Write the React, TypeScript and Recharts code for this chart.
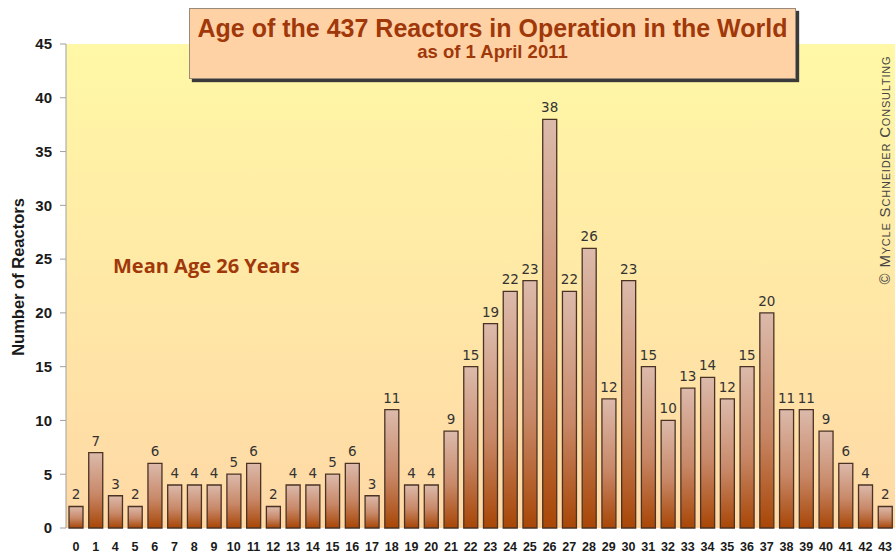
import { BarChart, Bar, XAxis, YAxis, CartesianGrid, LabelList } from "recharts";

// age in years (x-axis categories) and number of reactors of that age
const ages = [
  "0", "1", "4", "5", "6", "7", "8", "9", "10", "11", "12", "13", "14", "15",
  "16", "17", "18", "19", "20", "21", "22", "23", "24", "25", "26", "27", "28",
  "29", "30", "31", "32", "33", "34", "35", "36", "37", "38", "39", "40", "41",
  "42", "43",
];
const reactors = [
  2, 7, 3, 2, 6, 4, 4, 4, 5, 6, 2, 4, 4, 5, 6, 3, 11, 4, 4, 9, 15, 19, 22, 23,
  38, 22, 26, 12, 23, 15, 10, 13, 14, 12, 15, 20, 11, 11, 9, 6, 4, 2,
];
const yTicks = [0, 5, 10, 15, 20, 25, 30, 35, 40, 45];

const data = ages.map((age, i) => ({ age, count: reactors[i] }));
// band edges for the little tick marks between the bars
const bandEdges = ages.map((_, i) => i).concat([ages.length]);

const W = 895;
const H = 558;
const red = "#a0380a";

export default function App() {
  return (
    <div style={{ position: "absolute", left: 0, top: 0, width: W, height: H, background: "#fff" }}>
      <BarChart
        width={W}
        height={H}
        data={data}
        margin={{ top: 44, right: 0, bottom: 0, left: 0 }}
        barSize={14}
      >
        <defs>
          <linearGradient id="bg" x1="0" y1="0" x2="0" y2="1">
            <stop offset="0%" stopColor="#fff8a6" />
            <stop offset="100%" stopColor="#ffd8a6" />
          </linearGradient>
          <linearGradient id="barFill" x1="0" y1="0" x2="0" y2="1">
            <stop offset="0%" stopColor="#dcbaab" />
            <stop offset="55%" stopColor="#c88868" />
            <stop offset="100%" stopColor="#a84606" />
          </linearGradient>
        </defs>
        <CartesianGrid fill="url(#bg)" horizontal={false} vertical={false} stroke="none" />
        <XAxis
          xAxisId="edges"
          type="number"
          domain={[0, ages.length]}
          ticks={bandEdges}
          tick={false}
          height={0}
          tickSize={5}
          stroke="#a0a0a0"
          allowDataOverflow
        />
        <XAxis
          dataKey="age"
          interval={0}
          height={30}
          axisLine={false}
          tickLine={false}
          tickMargin={8}
          tick={{ fontSize: 12.5, fontWeight: "bold", fill: "#1a1a1a", fontFamily: "Liberation Sans, Arial, sans-serif" }}
        />
        <YAxis
          domain={[0, 45]}
          ticks={yTicks}
          width={66}
          tickSize={6}
          tickMargin={8}
          stroke="#a0a0a0"
          tick={{ fontSize: 15, fontWeight: "bold", fill: "#1a1a1a", fontFamily: "Liberation Sans, Arial, sans-serif" }}
          label={{
            content: () => (
              <text
                x={18}
                y={277}
                transform="rotate(-90 18 277)"
                textAnchor="middle"
                dominantBaseline="central"
                fontSize={16.5}
                fontWeight="bold"
                fill="#1a1a1a"
                fontFamily="Liberation Sans, Arial, sans-serif"
              >
                Number of Reactors
              </text>
            ),
          }}
        />
        <Bar dataKey="count" fill="url(#barFill)" stroke="#4a3325" strokeWidth={1.3} isAnimationActive={false}>
          <LabelList
            dataKey="count"
            position="top"
            offset={7}
            fontSize={13.5}
            fill="#333"
            fontFamily="DejaVu Sans, sans-serif"
          />
        </Bar>
      </BarChart>

      {/* title box */}
      <div
        style={{
          position: "absolute",
          left: 189,
          top: 8,
          width: 605,
          height: 69,
          background: "#ffd2a6",
          border: "1px solid #9a8a7a",
          boxShadow: "3px 3px 1px #3a3a3a",
          textAlign: "center",
          fontFamily: "Liberation Sans, Arial, sans-serif",
          fontWeight: "bold",
          color: red,
        }}
      >
        <div style={{ fontSize: 25, marginTop: 5, lineHeight: "28px", whiteSpace: "nowrap" }}>
          Age of the 437 Reactors in Operation in the World
        </div>
        <div style={{ fontSize: 18.5, marginTop: 0, lineHeight: "20px" }}>as of 1 April 2011</div>
      </div>

      <div
        style={{
          position: "absolute",
          left: 113,
          top: 252,
          fontFamily: "Open Sans, sans-serif",
          fontWeight: "bold",
          fontSize: 20,
          color: red,
          whiteSpace: "nowrap",
        }}
      >
        Mean Age 26 Years
      </div>

      <div
        style={{
          position: "absolute",
          left: 884,
          top: 170,
          transform: "translate(-50%, -50%) rotate(-90deg)",
          fontFamily: "Liberation Sans, Arial, sans-serif",
          fontVariant: "small-caps",
          fontSize: 15,
          letterSpacing: 0.8,
          color: "#444",
          whiteSpace: "nowrap",
        }}
      >
        © Mycle Schneider Consulting
      </div>
    </div>
  );
}
